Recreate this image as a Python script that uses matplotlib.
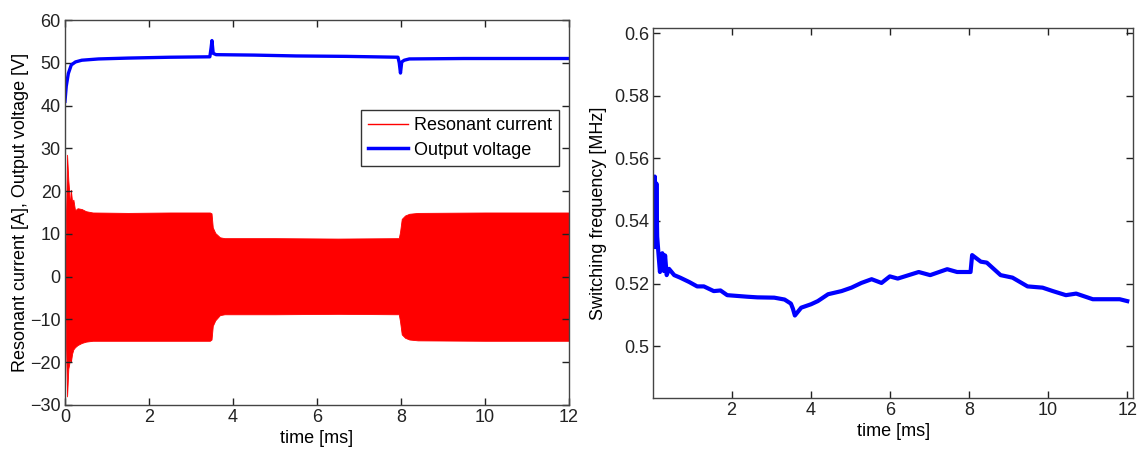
import numpy as np
import matplotlib.pyplot as plt
from matplotlib.lines import Line2D
from matplotlib.ticker import FormatStrFormatter

plt.rcParams['font.family'] = ['Liberation Sans', 'DejaVu Sans']
plt.rcParams['font.size'] = 13

# resonant current envelope [A] (upper / lower bound of the oscillation)
cur_t = [0.0, 0.02, 0.05, 0.08, 0.10, 0.12, 0.14, 0.17, 0.20, 0.24, 0.30, 0.40, 0.50, 0.66,
         1.5, 2.5, 3.45, 3.49, 3.52, 3.58, 3.69, 3.8, 5.0, 6.5, 7.95, 7.98, 8.02, 8.1, 8.2, 8.4, 10.0, 12.0]
cur_hi = [0.0, 12.0, 28.5, 22.5, 20.0, 16.0, 20.3, 17.5, 18.0, 15.5, 16.0, 15.8, 15.3, 15.0,
          14.9, 15.0, 15.0, 14.8, 11.5, 10.2, 9.2, 9.0, 9.0, 8.9, 9.0, 10.5, 13.5, 14.3, 14.7, 14.9, 15.0, 15.0]
cur_lo = [0.0, -14.0, -28.0, -21.5, -20.5, -19.0, -20.0, -18.0, -17.0, -16.5, -16.0, -15.5, -15.2, -15.0,
          -15.0, -15.0, -15.0, -14.7, -11.5, -10.2, -9.0, -8.8, -8.8, -8.7, -8.8, -10.5, -13.5, -14.3, -14.7, -14.9, -15.0, -15.0]

# output voltage [V]
vout_t = [0.0, 0.03, 0.08, 0.15, 0.25, 0.4, 0.8, 1.5, 2.5, 3.45, 3.48, 3.50, 3.53, 3.6, 4.5, 5.5, 6.7,
          7.93, 7.96, 7.99, 8.02, 8.08, 8.2, 9.5, 12.0]
vout = [41.0, 44.5, 47.5, 49.5, 50.2, 50.6, 50.9, 51.1, 51.3, 51.4, 53.5, 55.2, 52.2, 51.9, 51.8, 51.6, 51.5,
        51.3, 50.0, 47.6, 50.2, 50.6, 50.9, 51.0, 51.0]

# switching frequency [MHz]
fs_t = [0.04, 0.06, 0.08, 0.10, 0.12, 0.15, 0.19, 0.22, 0.25, 0.29, 0.32, 0.36, 0.42, 0.55, 0.70, 0.93, 1.13,
        1.3, 1.55, 1.72, 1.89, 2.4, 2.65, 3.08, 3.34, 3.5, 3.55, 3.6, 3.76, 4.01, 4.18, 4.44, 4.78, 5.03,
        5.28, 5.54, 5.79, 6.0, 6.2, 6.73, 7.02, 7.45, 7.7, 8.04, 8.08, 8.3, 8.45, 8.8, 9.1, 9.48, 9.86,
        10.12, 10.45, 10.71, 11.13, 11.81, 12.0]
fs = [0.5317, 0.5542, 0.5330, 0.5520, 0.5350, 0.5300, 0.5237, 0.5280, 0.5297, 0.5240, 0.5290, 0.5227,
      0.5247, 0.5227, 0.5219, 0.5205, 0.5191, 0.5191, 0.5176, 0.5178, 0.5163, 0.5158, 0.5156, 0.5155,
      0.5149, 0.5136, 0.5120, 0.5098, 0.5123, 0.5134, 0.5144, 0.5166, 0.5176, 0.5187, 0.5202, 0.5214,
      0.5202, 0.5223, 0.5216, 0.5237, 0.5227, 0.5246, 0.5237, 0.5237, 0.5291, 0.5270, 0.5267, 0.5227,
      0.5219, 0.5191, 0.5187, 0.5176, 0.5163, 0.5168, 0.5150, 0.5150, 0.5144]

left_yticks = np.arange(-30, 61, 10)
right_yticks = [0.5, 0.52, 0.54, 0.56, 0.58, 0.6]


def matlab_box(ax):
    ax.tick_params(direction='in', top=True, right=True, length=5, width=1, colors='#222222',
                   labelsize=13, pad=3)
    for s in ax.spines.values():
        s.set_color('#444444')
        s.set_linewidth(1.0)


fig = plt.figure(figsize=(11.4, 4.55), dpi=100)

ax1 = fig.add_axes([0.057, 0.110, 0.442, 0.846])
ax1.fill_between(cur_t, cur_lo, cur_hi, color='red', lw=0.6)
ax1.plot(vout_t, vout, color='blue', lw=2.4)
ax1.set_xlim(0, 12)
ax1.set_ylim(-30, 60)
ax1.set_yticks(left_yticks)
ax1.set_xticks(np.arange(0, 13, 2))
ax1.set_xlabel('time [ms]', labelpad=3)
ax1.set_ylabel('Resonant current [A], Output voltage [V]', labelpad=1)
matlab_box(ax1)
handles = [Line2D([], [], color='red', lw=1.0), Line2D([], [], color='blue', lw=2.5)]
leg = ax1.legend(handles, ['Resonant current', 'Output voltage'], loc='upper right',
                 bbox_to_anchor=(0.98, 0.766), fancybox=False, framealpha=1, borderpad=0.4,
                 handlelength=2.2, handletextpad=0.3, labelspacing=0.4, borderaxespad=0)
leg.get_frame().set_edgecolor('#333333')
leg.get_frame().set_linewidth(1.0)

ax2 = fig.add_axes([0.573, 0.125, 0.421, 0.813])
ax2.plot(fs_t, fs, color='blue', lw=3)
ax2.set_xlim(0.02, 12.15)
ax2.set_ylim(0.4834, 0.6016)
ax2.set_yticks(right_yticks)
ax2.yaxis.set_major_formatter(FormatStrFormatter('%g'))
ax2.set_xticks(np.arange(2, 13, 2))
ax2.set_xlabel('time [ms]', labelpad=3)
ax2.set_ylabel('Switching frequency [MHz]', labelpad=5)
matlab_box(ax2)

fig.savefig('out.png', dpi=100)
